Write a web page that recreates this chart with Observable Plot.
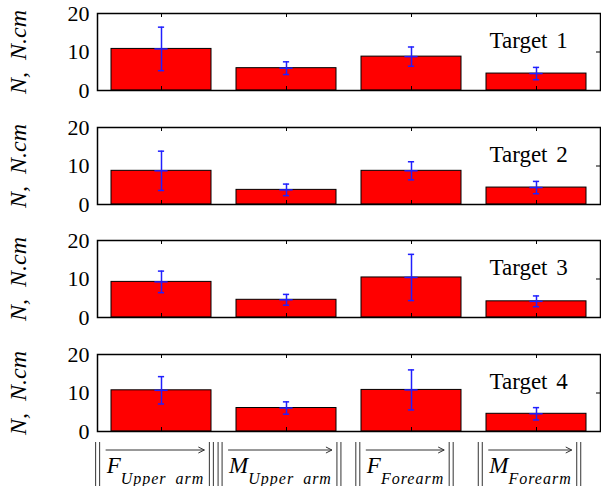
<!DOCTYPE html>
<html><head><meta charset="utf-8">
<script src="https://cdn.jsdelivr.net/npm/d3@7"></script>
<script src="https://cdn.jsdelivr.net/npm/@observablehq/plot@0.6"></script>
<style>
body{margin:0;background:#fff;font-family:"Liberation Serif";}
#chart svg{display:block;}
</style></head><body>
<div id="chart"></div>
<script>
// ---- data ----
const categories = ["F_upper", "M_upper", "F_fore", "M_fore"];
const mainLetters = ["F", "M", "F", "M"];
const subscripts = ["Upper arm", "Upper arm", "Forearm", "Forearm"];
const targets = ["Target 1", "Target 2", "Target 3", "Target 4"];
const yTicks = [0, 10, 20];
const yLabel = "N,\u2002N.cm";

const meansT1 = [10.8, 5.8, 8.8, 4.4];
const sdT1    = [5.65, 1.65, 2.5, 1.6];
const meansT2 = [8.75, 3.8, 8.75, 4.4];
const sdT2    = [5.1, 1.5, 2.35, 1.6];
const meansT3 = [9.25, 4.6, 10.4, 4.2];
const sdT3    = [2.8, 1.4, 6.0, 1.4];
const meansT4 = [10.7, 6.1, 10.8, 4.6];
const sdT4    = [3.55, 1.6, 5.2, 1.6];

const meansList = [meansT1, meansT2, meansT3, meansT4];
const sdList = [sdT1, sdT2, sdT3, sdT4];

// ---- layout ----
const W = 601, ML = 97, MR = 1, MT = 13, FH = 77;
const heights = [114, 113, 114, 145];
const innerW = W - ML - MR;
const serif = "Liberation Serif";
const blue = "#2020ff";
const ns = "http://www.w3.org/2000/svg";
const container = document.getElementById("chart");

function draw() {
  container.innerHTML = "";
  targets.forEach((t, i) => {
    const data = categories.map((c, j) => ({
      cat: c,
      mean: meansList[i][j],
      lo: meansList[i][j] - sdList[i][j],
      hi: meansList[i][j] + sdList[i][j]
    }));
    const last = i === targets.length - 1;
    const h = heights[i];
    const marks = [
      Plot.barY(data, {x: "cat", y: "mean", fill: "#ff0000", stroke: "#000", strokeWidth: 1}),
      Plot.frame({stroke: "#000", strokeWidth: 1.5}),
      Plot.ruleX(categories, {x: d => d, insetTop: FH - 4, stroke: "#000"}),
      Plot.ruleX(categories, {x: d => d, insetBottom: FH - 4, stroke: "#000"}),
      Plot.ruleY(yTicks, {y: d => d, insetLeft: innerW - 4, stroke: "#000"}),
      Plot.ruleX(data, {x: "cat", y1: "lo", y2: "hi", stroke: blue, strokeWidth: 1.5}),
      Plot.tickY(data, {x: "cat", y: "hi", stroke: blue, strokeWidth: 1.5, insetLeft: 46.9, insetRight: 46.9}),
      Plot.tickY(data, {x: "cat", y: "lo", stroke: blue, strokeWidth: 1.5, insetLeft: 46.9, insetRight: 46.9}),
      Plot.tickY(data, {x: "cat", y: "mean", stroke: blue, strokeWidth: 1.5, insetLeft: 43.4, insetRight: 43.4}),
      Plot.axisY({ticks: yTicks, tickSize: 0, tickPadding: 8, fontSize: 22, fontFamily: serif, label: null}),
      Plot.text([yLabel], {text: d => d, frameAnchor: "left", dx: -79, rotate: -90, textAnchor: "middle",
        lineAnchor: "middle", fontSize: 24, fontStyle: "italic", fontFamily: serif, fill: "#000"}),
      Plot.text([t], {text: d => d, frameAnchor: "top-right", dx: -111, dy: 34, textAnchor: "start",
        lineAnchor: "bottom", fontSize: 23, fontFamily: serif, fill: "#000"})
    ];
    if (last) {
      marks.push(Plot.text(categories, {x: d => d, text: (d, j) => mainLetters[j], frameAnchor: "bottom",
        dy: 41, dx: -6, textAnchor: "middle", lineAnchor: "bottom", fontSize: 23, fontStyle: "italic",
        fontFamily: serif, fill: "#000", ariaDescription: "xlabels"}));
    }
    const svg = Plot.plot({
      width: W, height: h,
      marginLeft: ML, marginRight: MR, marginTop: MT, marginBottom: h - MT - FH,
      style: {fontFamily: serif, fontSize: "22px", background: "white", overflow: "visible"},
      x: {type: "band", domain: categories, paddingInner: 0.2, paddingOuter: 0.1, axis: null},
      y: {domain: [0, 20], axis: null},
      marks
    });
    svg.querySelectorAll('g[aria-label="text"] text').forEach(el => {
      if (/^Target/.test(el.textContent)) el.setAttribute("word-spacing", "3");
    });
    container.appendChild(svg);

    if (last) {
      let g = svg.querySelector('g[aria-description="xlabels"]');
      if (!g) { const all = svg.querySelectorAll('g[aria-label="text"]'); g = all[all.length - 1]; }
      const sr = svg.getBoundingClientRect();
      const deco = document.createElementNS(ns, "g");
      deco.setAttribute("stroke", "#333");
      deco.setAttribute("fill", "none");
      deco.setAttribute("stroke-width", "1");
      g.querySelectorAll("text").forEach((el, j) => {
        const ts = document.createElementNS(ns, "tspan");
        ts.setAttribute("font-size", "16");
        ts.setAttribute("dy", "11");
        ts.setAttribute("letter-spacing", "1");
        ts.setAttribute("word-spacing", "4");
        ts.textContent = subscripts[j];
        el.appendChild(ts);
        const r = el.getBoundingClientRect();
        const x0 = r.left - sr.left, x1 = r.right - sr.left;
        const yBarTop = MT + FH + 11, yBarBot = h, yArrow = MT + FH + 19;
        const parts = [
          `M${x0 - 10},${yBarTop}V${yBarBot}`, `M${x0 - 6},${yBarTop}V${yBarBot}`,
          `M${x1 + 5},${yBarTop}V${yBarBot}`, `M${x1 + 9},${yBarTop}V${yBarBot}`,
          `M${x0},${yArrow}H${x1}`, `M${x1 - 6},${yArrow - 3}L${x1},${yArrow}L${x1 - 6},${yArrow + 3}`
        ];
        const p = document.createElementNS(ns, "path");
        p.setAttribute("d", parts.join(""));
        deco.appendChild(p);
      });
      svg.appendChild(deco);
    }
  });
}
draw();
if (document.fonts && document.fonts.ready) document.fonts.ready.then(draw);
</script></body></html>
